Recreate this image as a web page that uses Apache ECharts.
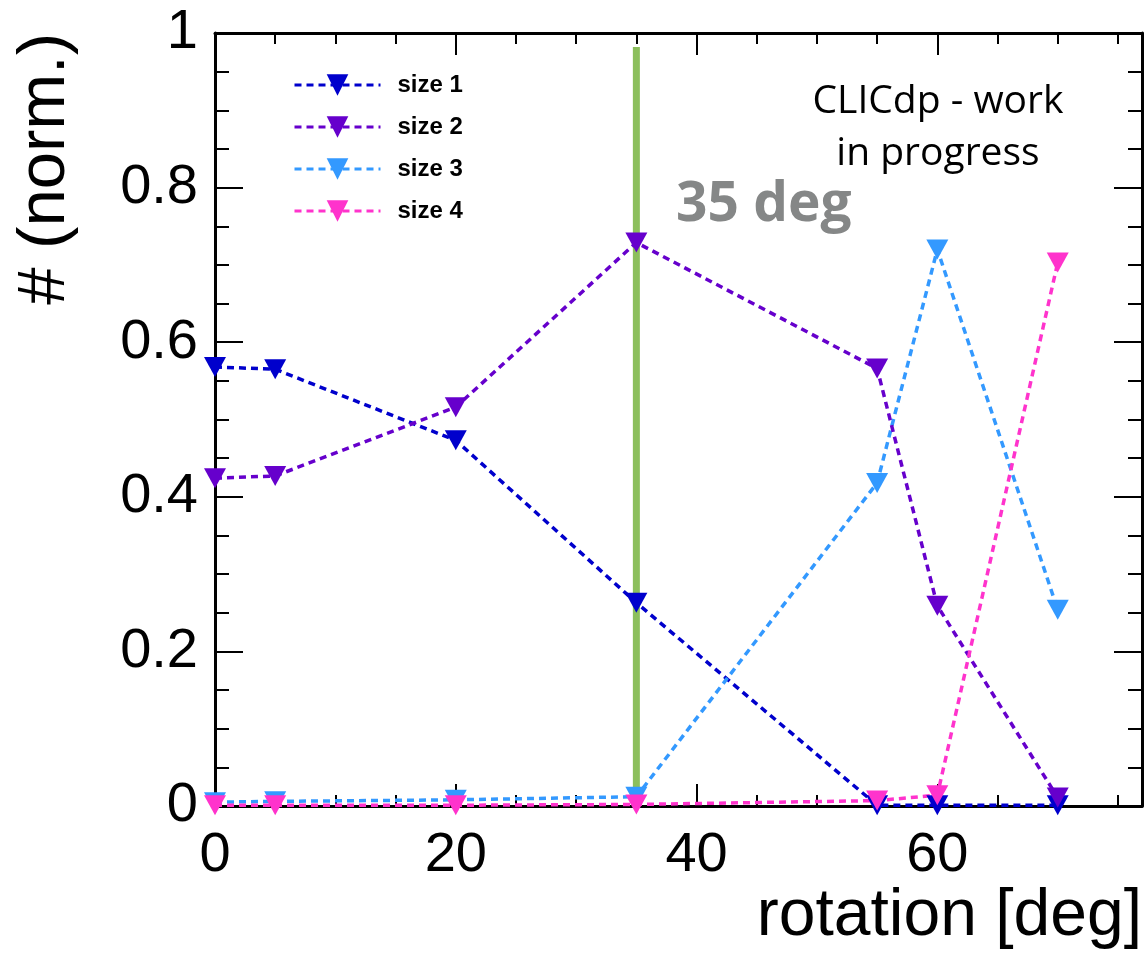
<!DOCTYPE html>
<html>
<head>
<meta charset="utf-8">
<title>Size fractions vs rotation</title>
<script src="https://cdn.jsdelivr.net/npm/echarts@6/dist/echarts.min.js"></script>
<style>
  html, body { margin: 0; padding: 0; background: #fff; }
  #chart { width: 1148px; height: 954px; }
</style>
</head>
<body>
<div id="chart"></div>
<script>
// Rotation angles (deg) and the normalised fraction of each cluster size
const rotation = [0, 5, 20, 35, 55, 60, 70];
const size1 = [0.568, 0.565, 0.473, 0.263, 0.001, 0.001, 0.001];
const size2 = [0.424, 0.427, 0.516, 0.729, 0.566, 0.259, 0.011];
const size3 = [0.005, 0.006, 0.008, 0.012, 0.418, 0.720, 0.254];
const size4 = [0.001, 0.001, 0.001, 0.002, 0.007, 0.014, 0.703];
const seriesNames = ['size 1', 'size 2', 'size 3', 'size 4'];
const seriesColors = ['#0000cc', '#6600cc', '#3399ff', '#ff33cc'];
// Reference angle marked with a vertical band
const refAngle = 35;
const refLineTop = 0.982;

const xMax = 77;
const black = '#000';
const tickFont = 'Liberation Sans';

function pts(values) {
  return rotation.map((r, i) => [r, values[i]]);
}

function dataSeries(idx, values) {
  return {
    name: seriesNames[idx],
    type: 'line',
    xAxisIndex: 0,
    yAxisIndex: 0,
    data: pts(values),
    symbol: 'triangle',
    symbolSize: [22, 20],
    symbolRotate: 180,
    showAllSymbol: true,
    color: seriesColors[idx],
    itemStyle: { color: seriesColors[idx] },
    lineStyle: { color: seriesColors[idx], width: 3.5, type: [7, 5] },
    emphasis: { disabled: true },
    silent: true
  };
}

function xAx(position, interval, tickLen, showLabels, showLine) {
  return {
    type: 'value', position, min: 0, max: xMax, interval,
    axisLine: { show: showLine, onZero: false, lineStyle: { color: black, width: 3 } },
    axisTick: { show: true, inside: true, length: tickLen, lineStyle: { color: black, width: 2 } },
    axisLabel: {
      show: showLabels, fontSize: 56, fontFamily: tickFont, color: black,
      margin: 22, showMaxLabel: false
    },
    splitLine: { show: false }
  };
}

function yAx(position, showLabels) {
  return {
    type: 'value', position, min: 0, max: 1, interval: 0.2,
    axisLine: { show: true, onZero: false, lineStyle: { color: black, width: 3 } },
    axisTick: { show: true, inside: true, length: 28, lineStyle: { color: black, width: 2 } },
    minorTick: { show: true, splitNumber: 4, length: 14, lineStyle: { color: black, width: 2 } },
    axisLabel: { show: showLabels, fontSize: 56, fontFamily: tickFont, color: black, margin: 17 },
    splitLine: { show: false },
    minorSplitLine: { show: false }
  };
}

const chart = echarts.init(document.getElementById('chart'), null, { renderer: 'canvas' });

chart.setOption({
  animation: false,
  backgroundColor: '#fff',
  grid: { left: 215, right: 6, top: 33, bottom: 148, containLabel: false, outerBoundsMode: 'none' },
  xAxis: [
    xAx('bottom', 20, 22, true, true),
    xAx('bottom', 5, 11, false, false),
    xAx('top', 20, 22, false, true),
    xAx('top', 5, 11, false, false)
  ],
  yAxis: [yAx('left', true), yAx('right', false)],
  legend: {
    data: seriesNames,
    orient: 'vertical',
    left: 288,
    top: 65,
    itemWidth: 86,
    itemHeight: 27,
    itemGap: 12,
    selectedMode: false,
    lineStyle: { width: 3 },
    textStyle: {
      fontFamily: tickFont, fontWeight: 'bold', fontSize: 24, color: black,
      padding: [0, 0, 0, 12],
      lineHeight: 30
    }
  },
  series: [
    dataSeries(0, size1),
    dataSeries(2, size3),
    {
      name: 'reference',
      type: 'line',
      xAxisIndex: 0,
      yAxisIndex: 0,
      data: [[refAngle, 0], [refAngle, refLineTop]],
      showSymbol: false,
      symbol: 'none',
      lineStyle: { color: '#8cbf5c', width: 7, type: 'solid' },
      silent: true,
      emphasis: { disabled: true }
    },
    dataSeries(1, size2),
    dataSeries(3, size4)
  ],
  graphic: [
    {
      type: 'text', x: 676, y: 205,
      style: { text: '35 deg', font: 'bold 55px "Open Sans"', fill: '#858787', align: 'left', verticalAlign: 'middle' }
    },
    {
      type: 'text', x: 938, y: 102,
      style: { text: 'CLICdp - work', font: '39px "Open Sans"', fill: black, align: 'center', verticalAlign: 'middle' }
    },
    {
      type: 'text', x: 938, y: 154,
      style: { text: 'in progress', font: '39px "Open Sans"', fill: black, align: 'center', verticalAlign: 'middle' }
    },
    {
      type: 'text', x: 46, y: 33, rotation: Math.PI / 2,
      style: { text: '# (norm.)', font: '67px Liberation Sans', fill: black, align: 'right', verticalAlign: 'middle' }
    },
    {
      type: 'text', x: 1142, y: 917,
      style: { text: 'rotation [deg]', font: '66px Liberation Sans', fill: black, align: 'right', verticalAlign: 'middle' }
    }
  ]
});
</script>
</body>
</html>
